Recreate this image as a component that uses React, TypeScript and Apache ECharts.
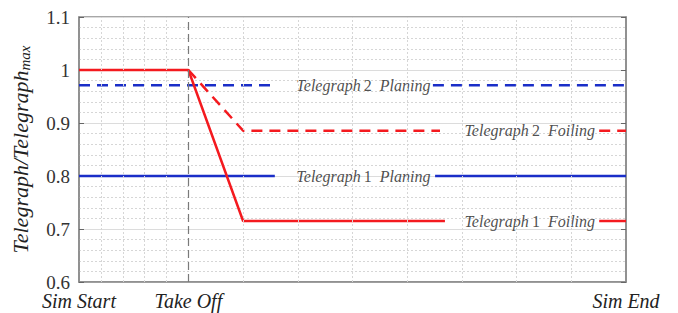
import React, { useEffect, useRef } from "react";
import * as echarts from "echarts";

// ---- data ----
const xTickValues = [0, 0.2, 1];
const xTickLabels = ["Sim Start", "Take Off", "Sim End"];
const takeOffX = 0.2;
const xGridLines = [0.04, 0.08, 0.12, 0.16, 0.3, 0.4, 0.5, 0.6, 0.7, 0.8, 0.9];

const GAP = "-";
const t2Planing: any[] = [[0, 0.971], [0.358, 0.971], [0.5, GAP], [0.647, 0.971], [1, 0.971]];
const t1Planing: any[] = [[0, 0.8], [0.358, 0.8], [0.5, GAP], [0.651, 0.8], [1, 0.8]];
const t2Foiling: any[] = [[0.2, 1.0], [0.3, 0.8855], [0.66, 0.8855], [0.8, GAP], [0.951, 0.8855], [1, 0.8855]];
const t1Foiling: any[] = [[0, 1.0], [0.2, 1.0], [0.3, 0.715], [0.669, 0.715], [0.8, GAP], [0.951, 0.715], [1, 0.715]];

const labelNames = ["Telegraph|2|Planing", "Telegraph|1|Planing", "Telegraph|2|Foiling", "Telegraph|1|Foiling"];
const labelX = [0.52, 0.52, 0.824, 0.824];
const labelY = [0.971, 0.8, 0.8855, 0.715];

const RED = "#f41a1f";
const BLUE = "#1a2ec8";
const SERIF = "Liberation Serif";

export default function App() {
  const ref = useRef<HTMLDivElement>(null);
  useEffect(() => {
    if (!ref.current) return;
    const chart = echarts.init(ref.current, undefined, { renderer: "svg" });
    const rich = {
      i: { fontFamily: SERIF, fontStyle: "italic", fontSize: 16, color: "#222" },
      n: { fontFamily: SERIF, fontSize: 16, color: "#222" },
    };
    chart.setOption({
      animation: false,
      backgroundColor: "#fff",
      textStyle: { fontFamily: SERIF },
      grid: { left: 79, right: 52, top: 17, bottom: 31, show: true, borderColor: "#8a8a8a", borderWidth: 1.5, outerBoundsMode: "none", containLabel: false },
      xAxis: {
        type: "value",
        min: 0,
        max: 1,
        interval: 0.2,
        axisLine: { show: true, lineStyle: { color: "#8a8a8a", width: 1.5 } },
        axisTick: { show: false },
        splitLine: { show: false },
        axisLabel: {
          margin: 9,
          fontFamily: SERIF,
          fontStyle: "italic",
          fontSize: 20,
          color: "#222",
          formatter: (v: number) => {
            const idx = xTickValues.findIndex((t) => Math.abs(t - v) < 1e-6);
            return idx >= 0 ? xTickLabels[idx] : "";
          },
        },
      },
      yAxis: [
        {
          type: "value",
          min: 0.6,
          max: 1.1,
          interval: 0.1,
          name: "{a|Telegraph/Telegraph}{b|max}",
          nameLocation: "middle",
          nameGap: 46,
          nameRotate: 90,
          nameTextStyle: {
            fontFamily: SERIF,
            rich: {
              a: { fontFamily: SERIF, fontStyle: "italic", fontSize: 22, color: "#222", lineHeight: 26 },
              b: { fontFamily: SERIF, fontStyle: "italic", fontSize: 15, color: "#222", lineHeight: 26, padding: [9, 0, 0, 0] },
            },
          },
          axisLine: { show: true, lineStyle: { color: "#8a8a8a", width: 1.5 } },
          axisTick: { show: true, inside: true, length: 5, lineStyle: { color: "#666" } },
          axisLabel: {
            margin: 9,
            fontFamily: SERIF,
            fontSize: 19,
            color: "#333",
            formatter: (v: number) => String(Number(v.toFixed(1))),
          },
          splitLine: { show: true, lineStyle: { color: "#dcdcdc", width: 1 } },
          minorTick: { show: false, splitNumber: 5 },
          minorSplitLine: { show: true, lineStyle: { color: "#d6d6d6", type: [2, 2], width: 1 } },
        },
        {
          type: "value",
          position: "right",
          min: 0.6,
          max: 1.1,
          interval: 0.1,
          axisLine: { show: true, lineStyle: { color: "#8a8a8a", width: 1.5 } },
          axisTick: { show: true, inside: true, length: 5, lineStyle: { color: "#666" } },
          axisLabel: { show: false },
          splitLine: { show: false },
        },
      ],
      series: [
        {
          type: "line",
          data: [],
          silent: true,
          markLine: {
            silent: true,
            symbol: "none",
            label: { show: false },
            lineStyle: { color: "#d6d6d6", type: [2, 2], width: 1 },
            data: xGridLines.map((x) => ({ xAxis: x })),
          },
        },
        {
          type: "line",
          data: [],
          silent: true,
          markLine: {
            silent: true,
            symbol: "none",
            label: { show: false },
            lineStyle: { color: "#7a7a7a", type: [8, 4], width: 1.2 },
            data: [{ xAxis: takeOffX }],
          },
        },
        {
          type: "line",
          data: t2Planing,
          showSymbol: false,
          connectNulls: false,
          lineStyle: { color: BLUE, width: 2.5, type: [11, 7] },
        },
        {
          type: "line",
          data: t1Planing,
          showSymbol: false,
          connectNulls: false,
          lineStyle: { color: BLUE, width: 2.5 },
        },
        {
          type: "line",
          data: t2Foiling,
          showSymbol: false,
          connectNulls: false,
          lineStyle: { color: RED, width: 2.5, type: [11, 7] },
        },
        {
          type: "line",
          data: t1Foiling,
          showSymbol: false,
          connectNulls: false,
          lineStyle: { color: RED, width: 2.5 },
        },
        {
          type: "scatter",
          symbolSize: 0,
          silent: true,
          data: labelNames.map((n, i) => ({ name: n, value: [labelX[i], labelY[i]] })),
          label: {
            show: true,
            position: "inside",
            formatter: (p: any) => {
              const [a, b, c] = p.name.split("|");
              return `{i|${a}\u2009}{n|${b}}{i|\u00a0\u00a0${c}}`;
            },
            rich,
          },
        },
      ],
    });
    return () => chart.dispose();
  }, []);
  return (
    <div
      ref={ref}
      style={{ position: "fixed", left: 0, top: 0, width: 678, height: 313 }}
    />
  );
}
